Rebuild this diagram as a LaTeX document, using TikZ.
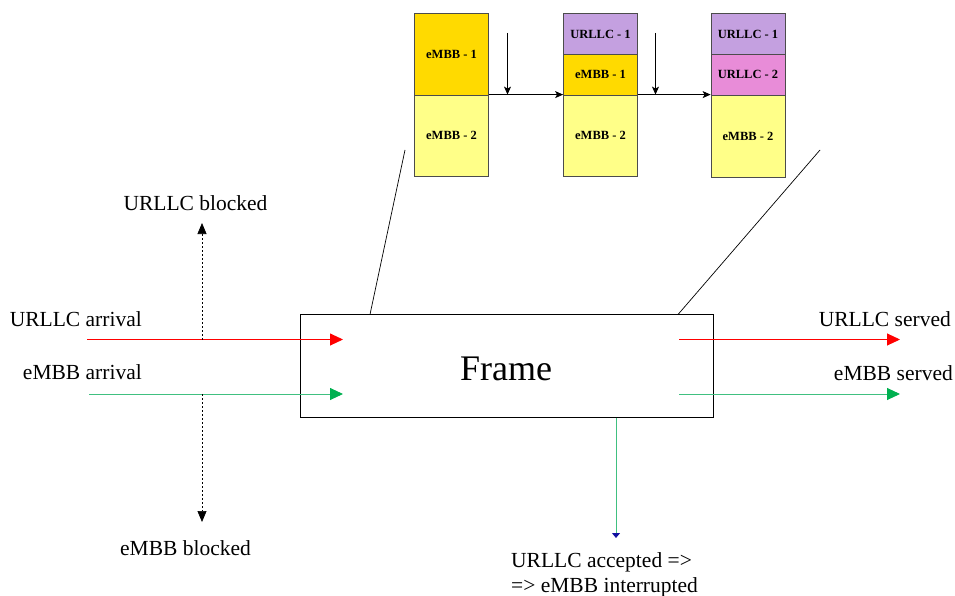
\documentclass[tikz,border=0pt]{standalone}
\usepackage{fontspec}
\setmainfont{Liberation Serif}
\usetikzlibrary{arrows.meta}
\definecolor{gold}{HTML}{FFDA00}
\definecolor{lyellow}{HTML}{FFFF88}
\definecolor{lpurple}{HTML}{C4A0E0}
\definecolor{lpink}{HTML}{E88CD8}
\definecolor{myred}{HTML}{FF0000}
\definecolor{mygreen}{HTML}{00B050}
\definecolor{lgreen}{HTML}{40C080}
\definecolor{darkblue}{HTML}{1010A0}
\begin{document}
\begin{tikzpicture}[x=1pt,y=-1pt,
  cell/.style={draw=black!70, line width=0.8pt, minimum width=74pt, inner sep=0pt,
     font=\fontsize{12.5}{14}\selectfont\bfseries},
  lbl/.style={inner sep=0pt, font=\fontsize{21.5}{25}\selectfont},
  blk/.style={-{Stealth[length=8pt,width=7pt,inset=2pt]}, line width=0.8pt},
  redarr/.style={draw=myred, line width=0.9pt, -{Triangle[length=13pt,width=12pt,fill=myred]}},
  grnarr/.style={draw=lgreen, line width=0.9pt, -{Triangle[length=13pt,width=12pt,fill=mygreen,color=mygreen]}},
  dotarr/.style={line width=0.7pt, dash pattern=on 2pt off 2pt, -{Triangle[length=11pt,width=9pt]}}
]
\useasboundingbox (0,0) rectangle (955,596);

% top cells
\node[cell, fill=gold, minimum height=81.5pt] (a1) at (451.5,54.25) {eMBB - 1};
\node[cell, fill=lyellow, minimum height=81pt] (a2) at (451.5,135.5) {eMBB - 2};

\node[cell, fill=lpurple, minimum height=41pt] (b1) at (600.5,34) {URLLC - 1};
\node[cell, fill=gold, minimum height=40.5pt] (b2) at (600.5,74.75) {eMBB - 1};
\node[cell, fill=lyellow, minimum height=81pt] (b3) at (600.5,135.5) {eMBB - 2};

\node[cell, fill=lpurple, minimum height=41pt] (c1) at (748,34) {URLLC - 1};
\node[cell, fill=lpink, minimum height=40.5pt] (c2) at (748,74.75) {URLLC - 2};
\node[cell, fill=lyellow, minimum height=82pt] (c3) at (748,136) {eMBB - 2};

\draw[blk] (a2.north east) -- (b3.north west);
\draw[blk] (b3.north east) -- (c3.north west);
\coordinate (v1) at (507.5,33);
\coordinate (v2) at (655.5,33);
\draw[blk] (v1) -- (v1 |- a2.north);
\draw[blk] (v2) -- (v2 |- b3.north);

% frame
\node[draw, line width=0.8pt, minimum width=413pt, minimum height=103pt, inner sep=0pt] (frame) at (507,366) {};
\node[inner sep=0pt, anchor=base, font=\fontsize{36}{40}\selectfont] (ftxt) at (506,380) {Frame};

% zoom lines
\coordinate (z1) at (370,314.5);
\coordinate (z2) at (405,150);
\coordinate (z3) at (678,314.5);
\coordinate (z4) at (820,150);
\draw[line width=0.7pt] (z1) -- (z2);
\draw[line width=0.7pt] (z3) -- (z4);

% labels
\node[lbl, anchor=base east] (ua) at (142,326) {URLLC arrival};
\node[lbl, anchor=base east] (ea) at (142,379) {eMBB arrival};
\node[lbl, anchor=base] (ub) at (195.5,210.5) {URLLC blocked};
\node[lbl, anchor=base] (eb) at (185.5,555) {eMBB blocked};
\node[lbl, anchor=base east] (us) at (951,326) {URLLC served};
\node[lbl, anchor=base east] (es) at (953,380) {eMBB served};
\node[lbl, anchor=base west] (acc1) at (511,567) {URLLC accepted =>};
\node[lbl, anchor=base west] (acc2) at (511,592) {=> eMBB interrupted};

% arrival/served arrows
\coordinate (r0) at (87,339.5);
\coordinate (r1) at (343,339.5);
\coordinate (g0) at (89,394);
\coordinate (g1) at (343,394);
\coordinate (r2) at (679,339.5);
\coordinate (r3) at (900,339.5);
\coordinate (g2) at (679,394);
\coordinate (g3) at (900,394);
\draw[redarr] (r0) -- (r1);
\draw[grnarr] (g0) -- (g1);
\draw[redarr] (r2) -- (r3);
\draw[grnarr] (g2) -- (g3);

% blocked dotted arrows
\coordinate (d0) at (202,339.5);
\coordinate (d1) at (202,223);
\coordinate (d2) at (202,394);
\coordinate (d3) at (202,522);
\draw[dotarr] (d0) -- (d1);
\draw[dotarr] (d2) -- (d3);

% accepted arrow
\coordinate (acc) at (616,538);
\draw[draw=lgreen, line width=0.9pt, -{Triangle[length=5pt,width=8pt,fill=darkblue,color=darkblue]}] (frame.south -| acc) -- (acc);
\end{tikzpicture}
\end{document}
